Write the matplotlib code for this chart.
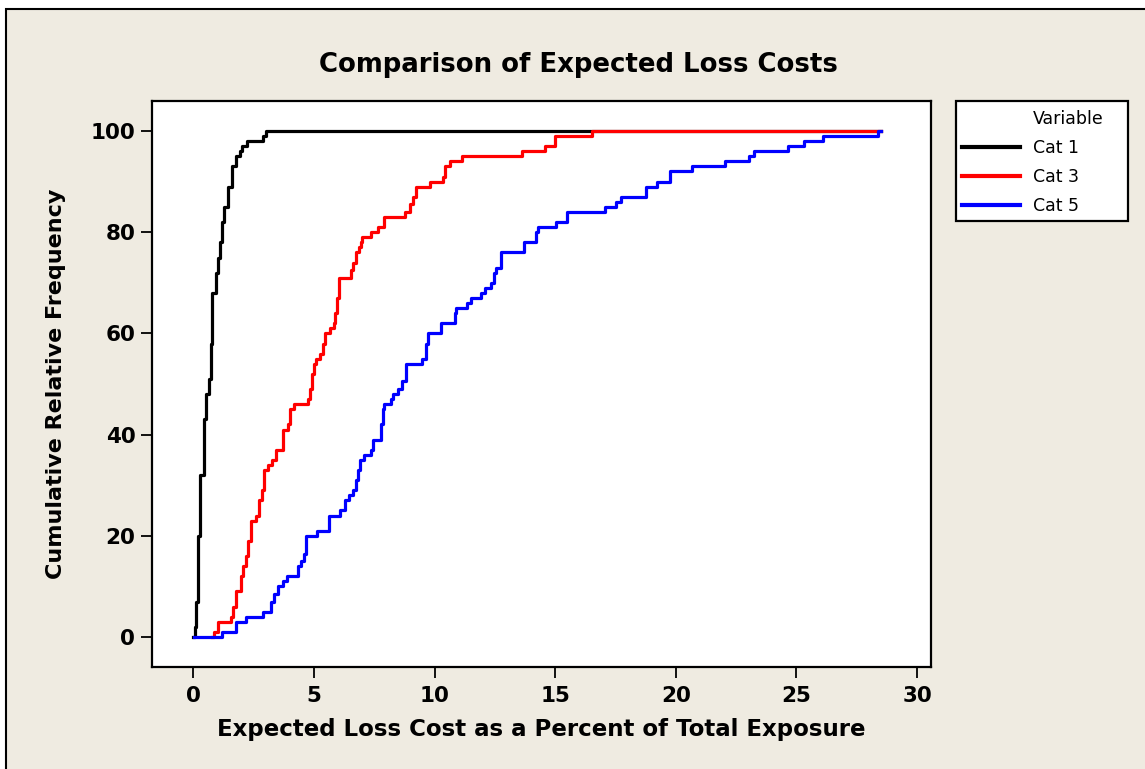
"""Empirical CDFs of expected loss cost for three categories (Minitab-style look)."""

import matplotlib.pyplot as plt
from matplotlib.lines import Line2D
from matplotlib.patches import Rectangle

# step points: curve jumps to y (cumulative %) at x (expected loss cost, %)
cat1_x = [0.0, 0.06, 0.11, 0.19, 0.28, 0.43, 0.52, 0.64, 0.73, 0.77, 0.93, 1.01, 1.10,
          1.19, 1.28, 1.44, 1.60, 1.75, 1.91, 2.02, 2.20, 2.89, 3.01, 28.5]
cat1_y = [0, 2, 7, 20, 32, 43, 48, 51, 58, 68, 72, 75, 78,
          82, 85, 89, 93, 95, 96, 97, 98, 99, 100, 100]

cat3_x = [0.75, 0.83, 1.00, 1.55, 1.65, 1.76, 1.97, 2.06, 2.17, 2.24, 2.38, 2.59, 2.70,
          2.84, 2.94, 3.10, 3.25, 3.42, 3.70, 3.91, 4.02, 4.18, 4.74, 4.85, 4.92, 4.99,
          5.08, 5.26, 5.39, 5.46, 5.64, 5.82, 5.87, 5.94, 6.05, 6.54, 6.61, 6.75, 6.86,
          6.95, 6.99, 7.37, 7.65, 7.89, 8.75, 8.96, 9.10, 9.24, 9.79, 10.35, 10.42, 10.62,
          11.14, 13.63, 14.57, 15.01, 16.51, 28.5]
cat3_y = [0, 1, 3, 4, 6, 9, 12, 14, 16, 19, 23, 24, 27,
          29, 33, 34, 35, 37, 41, 42, 45, 46, 47, 49, 52, 54,
          55, 56, 58, 60, 61, 62, 64, 67, 71, 72.5, 74, 76, 77,
          78, 79, 80, 81, 83, 84, 85.5, 87, 89, 90, 91, 93, 94,
          95, 96, 97, 99, 100, 100]

cat5_x = [0.03, 1.20, 1.76, 2.17, 2.87, 3.21, 3.35, 3.49, 3.70, 3.86, 4.35, 4.46, 4.57,
          4.67, 5.12, 5.60, 6.09, 6.30, 6.44, 6.61, 6.75, 6.81, 6.91, 7.09, 7.37, 7.44,
          7.78, 7.85, 7.92, 8.17, 8.27, 8.48, 8.66, 8.80, 9.49, 9.65, 9.72, 10.25, 10.83,
          10.90, 11.36, 11.52, 11.91, 12.08, 12.33, 12.47, 12.56, 12.77, 13.71, 14.22, 14.29,
          15.03, 15.47, 17.08, 17.50, 17.71, 18.76, 19.22, 19.74, 20.65, 22.05, 23.03, 23.24,
          24.64, 25.30, 26.11, 28.40, 28.5]
cat5_y = [0, 1, 3, 4, 5, 7, 8.5, 10, 11, 12, 14, 15, 16.5,
          20, 21, 24, 25, 27, 28, 29, 31, 33, 35, 36, 37, 39,
          42, 45, 46, 47, 48, 49, 50.5, 54, 55, 58, 60, 62, 64,
          65, 66, 67, 68, 69, 70, 72, 73, 76, 78, 80, 81,
          82, 84, 85, 86, 87, 89, 90, 92, 93, 94, 95, 96,
          97, 98, 99, 100, 100]

series = [("Cat 1", cat1_x, cat1_y, "#000000"),
          ("Cat 3", cat3_x, cat3_y, "#FF0000"),
          ("Cat 5", cat5_x, cat5_y, "#0000FF")]

x_ticks = [0, 5, 10, 15, 20, 25, 30]
y_ticks = [0, 20, 40, 60, 80, 100]

W, H = 1145, 769
BG = "#EFEBE1"

fig = plt.figure(figsize=(W / 100, H / 100), dpi=100, facecolor="white")
# beige panel with a black frame, clipped at the right and bottom
fig.patches.append(Rectangle((6 / W, -0.05), 1.1, 1 - 9 / H + 0.05, transform=fig.transFigure,
                             facecolor=BG, edgecolor="black", linewidth=1.5, zorder=-10))
# legend box
fig.patches.append(Rectangle((956 / W, 1 - 221 / H), 172 / W, 120 / H, transform=fig.transFigure,
                             facecolor="white", edgecolor="black", linewidth=1.6, zorder=-5))

ax = fig.add_axes([152 / W, 1 - 667 / H, 779 / W, 566 / H])
ax.set_facecolor("white")
for label, xs, ys, color in series:
    ax.step(xs, ys, where="post", color=color, linewidth=2.3, label=label)

ax.set_xlim(-1.72, 30.58)
ax.set_ylim(-5.93, 105.93)
ax.set_xticks(x_ticks)
ax.set_yticks(y_ticks)
ax.tick_params(direction="out", length=8, width=1.3, labelsize=15.5, pad=4)
ax.tick_params(axis="x", pad=6)
for lab in ax.get_xticklabels() + ax.get_yticklabels():
    lab.set_fontweight("bold")
for sp in ax.spines.values():
    sp.set_linewidth(1.6)

fig.text(578 / W, 1 - 65 / H, "Comparison of Expected Loss Costs", fontsize=18.7,
         fontweight="bold", ha="center", va="center")
ax.set_xlabel("Expected Loss Cost as a Percent of Total Exposure", fontsize=16.5,
              fontweight="bold", labelpad=8)
ax.set_ylabel("Cumulative Relative Frequency", fontsize=16, fontweight="bold", labelpad=18)

handles = [Line2D([], [], linestyle="none")] + [
    Line2D([], [], color=c, linewidth=3) for _, _, _, c in series]
labels = ["Variable"] + [s[0] for s in series]
fig.legend(handles, labels, loc="upper left", bbox_to_anchor=(959 / W, 1 - 107 / H),
           borderaxespad=0, fontsize=12.5, handlelength=3.3, handletextpad=0.75,
           labelspacing=0.62, borderpad=0.2, frameon=False)

fig.savefig("out.png", dpi=100, facecolor=fig.get_facecolor())
